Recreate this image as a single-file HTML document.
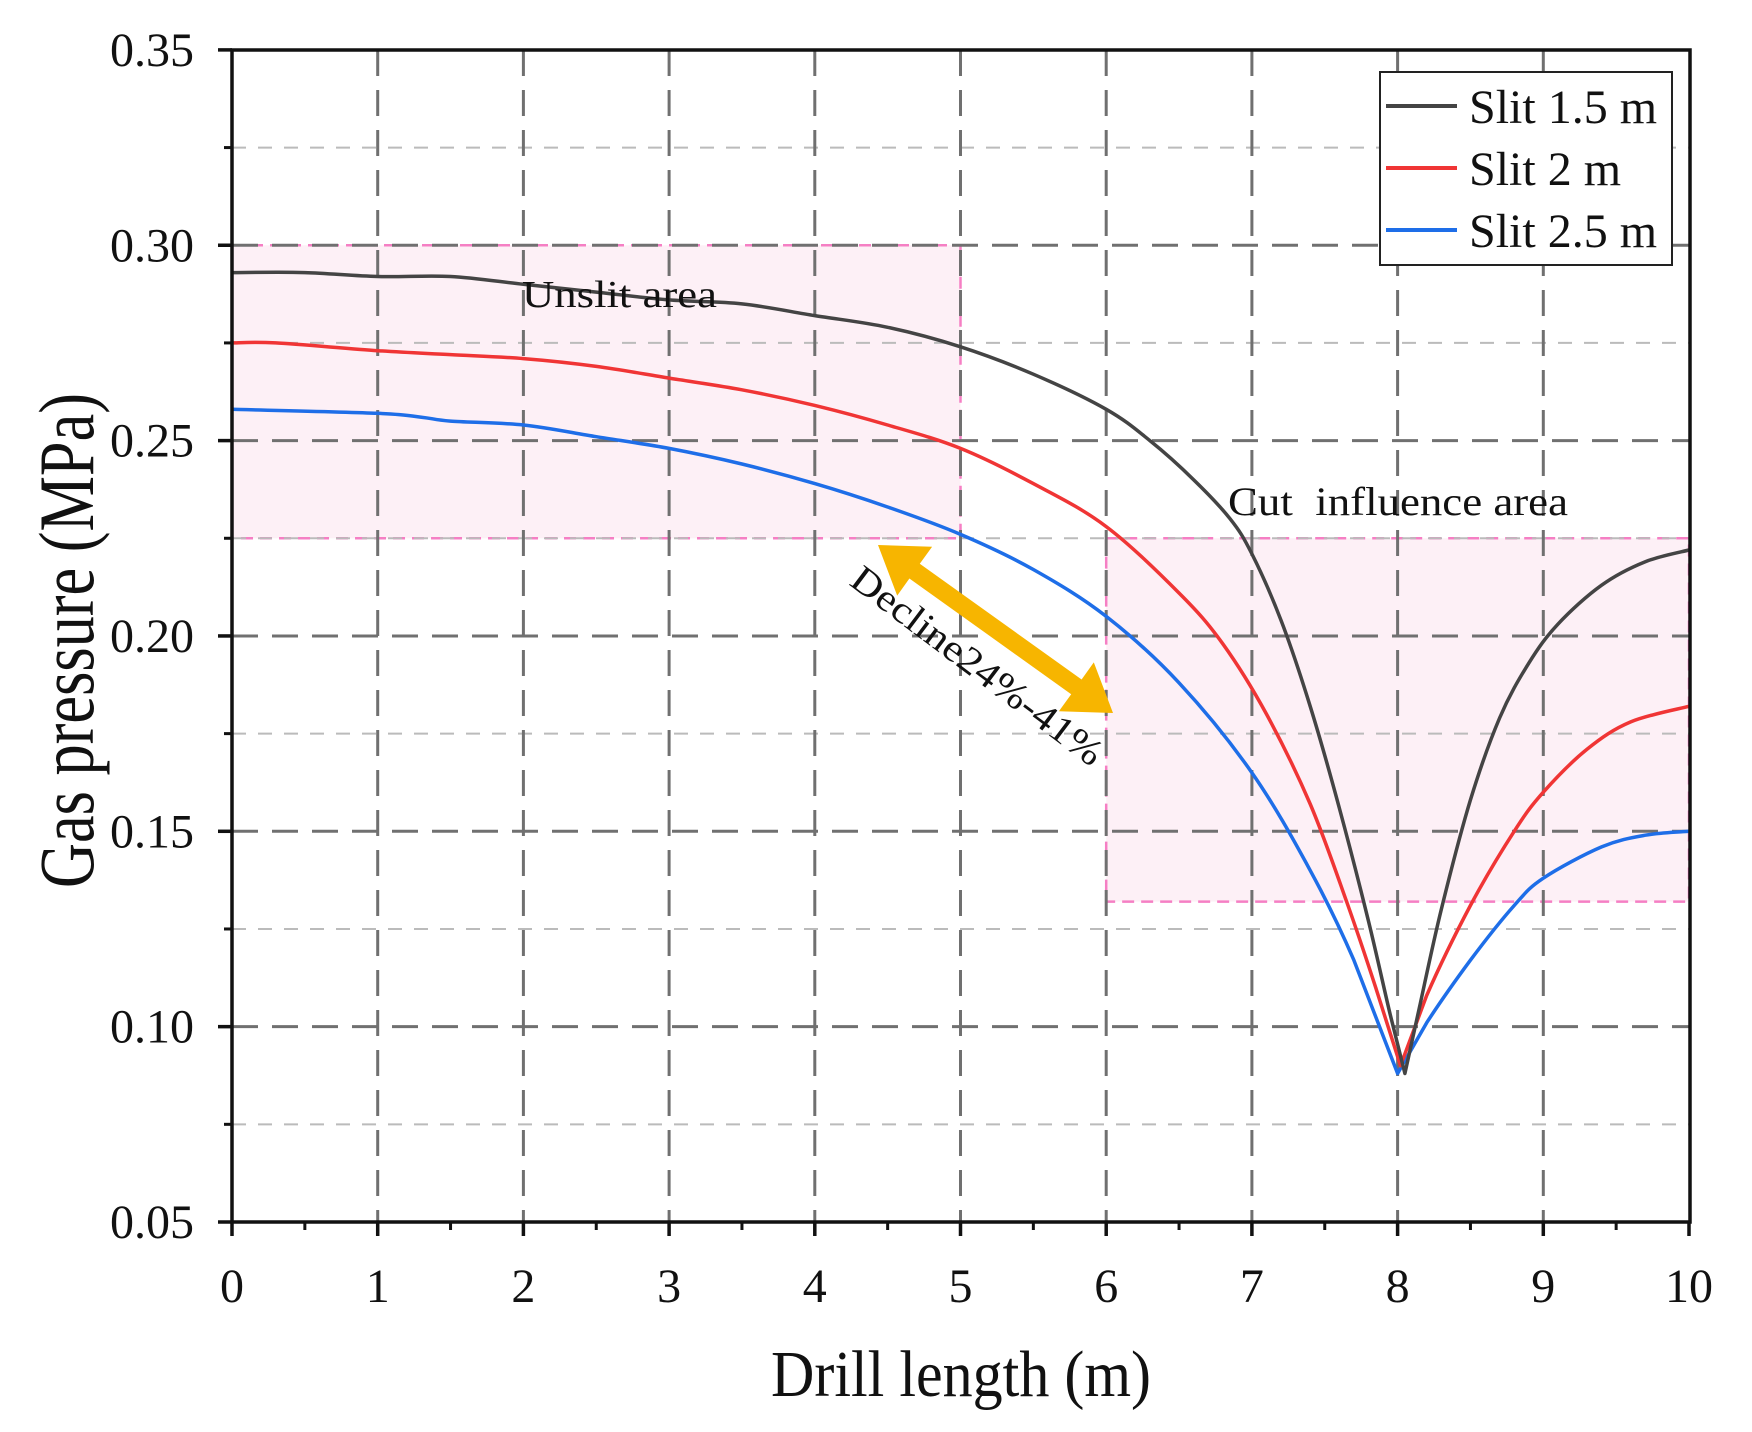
<!DOCTYPE html>
<html><head><meta charset="utf-8"><style>
html,body{margin:0;padding:0;background:#fff;}
svg{display:block;}
text{font-family:"Liberation Serif",serif;fill:#111;}
</style></head><body>
<svg id="s" width="1752" height="1432" viewBox="0 0 1752 1432" xmlns="http://www.w3.org/2000/svg">
<rect width="1752" height="1432" fill="#fff"/>
<g id="g"></g>
</svg>
<script>
const X=x=>232+145.7*x, Y=p=>1222-(p-0.05)*3907;
let h='';
h+=`<rect x="${X(0)}" y="${Y(0.30)}" width="${X(5)-X(0)}" height="${Y(0.225)-Y(0.30)}" fill="#fdf0f6" stroke="#f57fc4" stroke-width="2.5" stroke-dasharray="12,7"/>`;
h+=`<rect x="${X(6)}" y="${Y(0.225)}" width="${X(10)-X(6)}" height="${Y(0.132)-Y(0.225)}" fill="#fdf0f6" stroke="#f57fc4" stroke-width="2.5" stroke-dasharray="12,7"/>`;
for(let p=0.075;p<0.35;p+=0.05){h+=`<line x1="232" x2="1690" y1="${Y(p)}" y2="${Y(p)}" stroke="#bbb" stroke-width="2" stroke-dasharray="14,12"/>`;}
for(let p=0.10;p<0.34;p+=0.05){h+=`<line x1="232" x2="1690" y1="${Y(p)}" y2="${Y(p)}" stroke="#707070" stroke-width="3" stroke-dasharray="26,14"/>`;}
for(let i=1;i<10;i++){h+=`<line x1="${X(i)}" x2="${X(i)}" y1="50" y2="1222" stroke="#707070" stroke-width="3" stroke-dasharray="26,14"/>`;}
function path(pts,c){
  const P=pts.map(p=>[X(p[0]),Y(p[1])]);
  let d='M'+P[0][0].toFixed(1)+','+P[0][1].toFixed(1);
  for(let i=0;i<P.length-1;i++){
    const p0=P[Math.max(0,i-1)],p1=P[i],p2=P[i+1],p3=P[Math.min(P.length-1,i+2)];
    const sharp=(pts[i][1]<0.092&&pts[i][0]>7.9)||(pts[i+1][1]<0.092&&pts[i+1][0]>7.9);
    if(sharp){d+=` L${p2[0].toFixed(1)},${p2[1].toFixed(1)}`;continue;}
    const c1=[p1[0]+(p2[0]-p0[0])/6,p1[1]+(p2[1]-p0[1])/6],c2=[p2[0]-(p3[0]-p1[0])/6,p2[1]-(p3[1]-p1[1])/6];
    d+=` C${c1[0].toFixed(1)},${c1[1].toFixed(1)} ${c2[0].toFixed(1)},${c2[1].toFixed(1)} ${p2[0].toFixed(1)},${p2[1].toFixed(1)}`;
  }
  return `<path d="${d}" fill="none" stroke="${c}" stroke-width="3.5" stroke-linejoin="round"/>`;}
const blk=[[0,.293],[0.5,.293],[1,.292],[1.5,.292],[2,.290],[2.5,.288],[3,.286],[3.5,.285],[4,.282],[4.5,.279],[5,.274],[5.5,.267],[6,.258],[6.3,.250],[6.6,.240],[6.85,.230],[7.0,.221],[7.2,.204],[7.4,.182],[7.6,.156],[7.8,.127],[7.95,.103],[8.05,.088],[8.15,.105],[8.3,.130],[8.5,.158],[8.7,.179],[8.9,.193],[9.1,.203],[9.4,.213],[9.7,.219],[10,.222]];
const red=[[0,.275],[0.3,.275],[1,.273],[1.5,.272],[2,.271],[2.5,.269],[3,.266],[3.5,.263],[4,.259],[4.5,.254],[5,.248],[5.5,.239],[6,.228],[6.5,.211],[6.8,.198],[7.1,.180],[7.4,.157],[7.65,.132],[7.85,.110],[8.02,.090],[8.2,.108],[8.5,.131],[8.8,.150],[9,.160],[9.3,.171],[9.6,.178],[10,.182]];
const blu=[[0,.258],[1,.257],[1.3,.256],[1.5,.255],[2,.254],[2.5,.251],[3,.248],[3.5,.244],[4,.239],[4.5,.233],[5,.226],[5.5,.217],[6,.205],[6.5,.188],[7,.165],[7.4,.140],[7.7,.117],[8.0,.088],[8.2,.101],[8.5,.117],[8.8,.131],[9,.138],[9.4,.146],[9.7,.149],[10,.150]];
h+=path(blu,'#1e6ee8')+path(red,'#f03535')+path(blk,'#444');
h+=`<rect x="232" y="50" width="1458" height="1172" fill="none" stroke="#111" stroke-width="3.5"/>`;
for(let i=0;i<=10;i++){h+=`<line x1="${X(i)}" x2="${X(i)}" y1="1222" y2="1236" stroke="#111" stroke-width="3.5"/>`;h+=`<text x="${X(i)}" y="1302" font-size="48" text-anchor="middle">${i}</text>`;}
for(let i=0;i<10;i++){h+=`<line x1="${X(i+0.5)}" x2="${X(i+0.5)}" y1="1222" y2="1230" stroke="#111" stroke-width="3"/>`;}
for(let k=0;k<=6;k++){let p=0.05+k*0.05;h+=`<line x1="218" x2="232" y1="${Y(p)}" y2="${Y(p)}" stroke="#111" stroke-width="3.5"/>`;h+=`<text x="194" y="${Y(p)+16}" font-size="48" text-anchor="end">${p.toFixed(2)}</text>`;}
for(let k=0;k<6;k++){let p=0.075+k*0.05;h+=`<line x1="224" x2="232" y1="${Y(p)}" y2="${Y(p)}" stroke="#111" stroke-width="3"/>`;}
h+=`<rect x="1380" y="72" width="292" height="193" fill="#fff" stroke="#222" stroke-width="2"/>`;
[['Slit 1.5 m','#444',123],['Slit 2 m','#f03535',185],['Slit 2.5 m','#1e6ee8',247]].forEach(e=>{h+=`<line x1="1386" x2="1457" y1="${e[2]-17}" y2="${e[2]-17}" stroke="${e[1]}" stroke-width="4"/><text x="1469" y="${e[2]}" font-size="48">${e[0]}</text>`;});
h+=`<text x="522" y="307" font-size="38" textLength="195" lengthAdjust="spacingAndGlyphs">Unslit area</text>`;
h+=`<text x="1228" y="515" font-size="40" textLength="340" lengthAdjust="spacingAndGlyphs" xml:space="preserve">Cut  influence area</text>`;
(function(){const x1=878,y1=545,x2=1113,y2=713;const dx=x2-x1,dy=y2-y1,L=Math.hypot(dx,dy),ux=dx/L,uy=dy/L,nx=-uy,ny=ux;const hl=45,hw=30,sw=9;
const P=(t,w)=>[(x1+ux*t+nx*w).toFixed(1),(y1+uy*t+ny*w).toFixed(1)].join(',');
const pts=[P(0,0),P(hl,hw),P(hl,sw),P(L-hl,sw),P(L-hl,hw),P(L,0),P(L-hl,-hw),P(L-hl,-sw),P(hl,-sw),P(hl,-hw)];
h+=`<polygon points="${pts.join(' ')}" fill="#f7b500"/>`;})();
h+=`<text x="0" y="0" font-size="38" transform="translate(848,584) rotate(37)" textLength="305" lengthAdjust="spacingAndGlyphs">Decline24%-41%</text>`;
h+=`<text x="771" y="1396" font-size="66" textLength="380" lengthAdjust="spacingAndGlyphs">Drill length (m)</text>`;
h+=`<text x="0" y="0" font-size="78" transform="translate(93,888) rotate(-90)" textLength="495" lengthAdjust="spacingAndGlyphs">Gas pressure (MPa)</text>`;
document.getElementById('g').innerHTML=h;
</script>
</body></html>
